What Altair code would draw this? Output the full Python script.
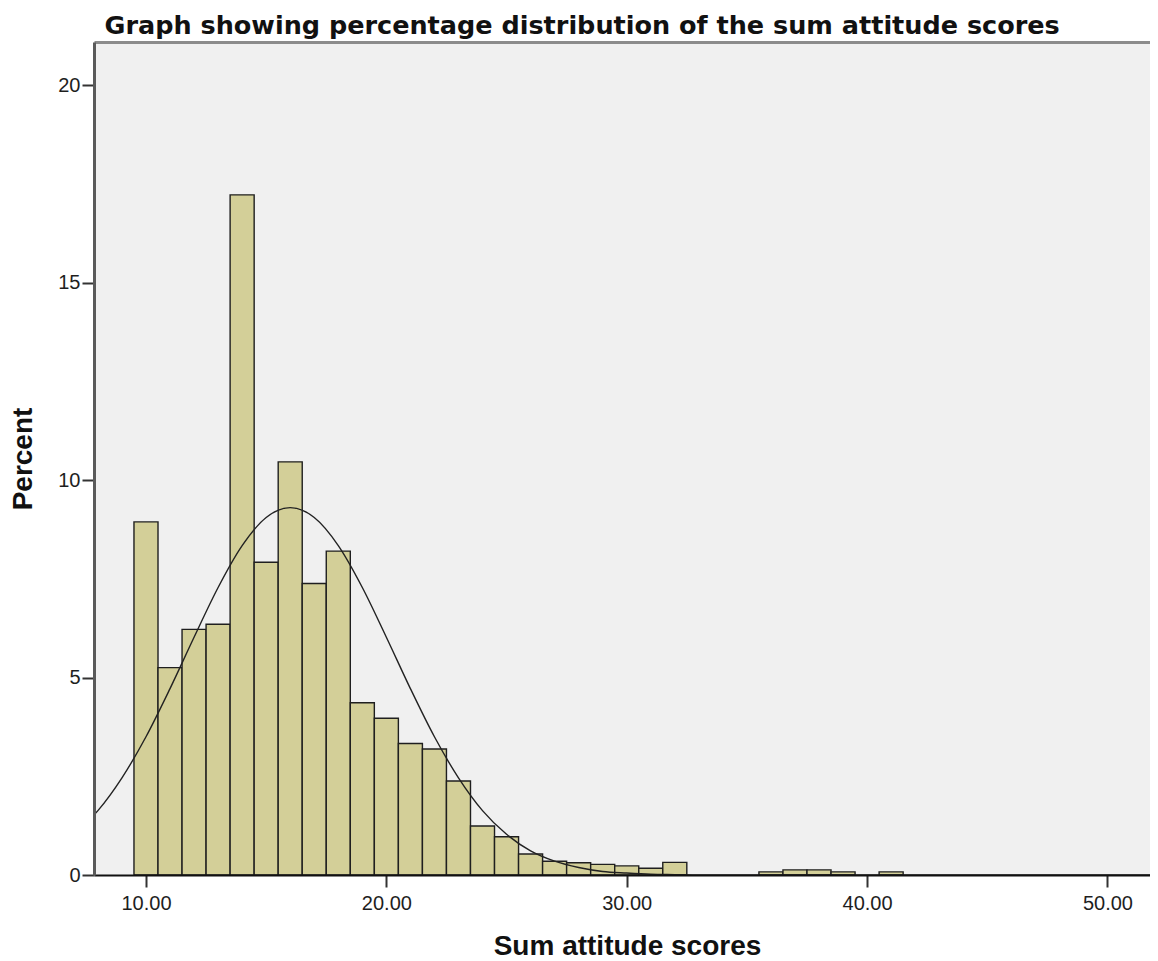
import altair as alt
import pandas as pd

# Histogram bins (centre of each 1-point bin) and their percentages
scores = [10, 11, 12, 13, 14, 15, 16, 17, 18, 19, 20, 21, 22, 23, 24, 25, 26, 27,
          28, 29, 30, 31, 32, 36, 37, 38, 39, 41]
percents = [8.94, 5.25, 6.22, 6.35, 17.22, 7.92, 10.46, 7.38, 8.20, 4.36, 3.97,
            3.33, 3.19, 2.38, 1.24, 0.97, 0.53, 0.35, 0.31, 0.27, 0.23, 0.17,
            0.32, 0.08, 0.13, 0.13, 0.08, 0.08]

# Normal curve
curve_x = [7, 8, 9, 10, 11, 12, 13, 14, 15, 16, 17, 18, 19, 20, 21, 22, 23, 24,
           25, 26, 27, 28, 29, 30, 31, 32, 33, 34, 53]
curve_y = [1.03, 1.63, 2.46, 3.50, 4.72, 6.02, 7.28, 8.34, 9.05, 9.30, 9.05,
           8.34, 7.28, 6.02, 4.72, 3.50, 2.46, 1.63, 1.03, 0.61, 0.35, 0.19,
           0.09, 0.05, 0.02, 0.01, 0.0, 0.0, 0.0]

x_ticks = [10, 20, 30, 40, 50]
y_ticks = [0, 5, 10, 15, 20]

bars_df = pd.DataFrame({"score": scores, "percent": percents})
curve_df = pd.DataFrame({"x": curve_x, "y": curve_y})

FONT = "Liberation Sans"
xscale = alt.Scale(domain=[7.837, 51.77], nice=False, zero=False)
yscale = alt.Scale(domain=[0, 21.09], nice=False)

bars = alt.Chart(bars_df).transform_calculate(
    lo="datum.score - 0.5", hi="datum.score + 0.5", base="0"
).mark_bar(
    fill="#D3CF98", stroke="#1f1f1f", strokeWidth=1.4, clip=True
).encode(
    x=alt.X("lo:Q", scale=xscale,
            axis=alt.Axis(values=x_ticks, format=".2f", title="Sum attitude scores",
                          tickSize=12, tickWidth=2, tickColor="#333333",
                          domainColor="#111111", domainWidth=2,
                          labelFont=FONT, labelFontSize=20, labelColor="#1e1e1e",
                          labelPadding=6, labelFlush=False,
                          titleFont=FONT, titleFontSize=28, titleFontWeight="bold",
                          titleColor="#111111", titleBaseline="alphabetic",
                          titleAnchor="start", titleAlign="center",
                          titleX=533, titleY=79, grid=False, zindex=2)),
    x2="hi:Q",
    y=alt.Y("percent:Q", scale=yscale,
            axis=alt.Axis(values=y_ticks, title="Percent",
                          tickSize=12, tickWidth=2, tickColor="#333333",
                          domainColor="#5a5a5a", domainWidth=3,
                          labelFont=FONT, labelFontSize=20, labelColor="#1e1e1e",
                          labelPadding=2,
                          titleFont=FONT, titleFontSize=28, titleFontWeight="bold",
                          titleColor="#111111", titleAngle=270,
                          titleAlign="center", titleBaseline="middle",
                          titleX=-71, titleY=416.5, grid=False, zindex=2)),
    y2="base:Q",
)

curve = alt.Chart(curve_df).mark_line(
    color="#222222", strokeWidth=1.4, interpolate="monotone", clip=True
).encode(
    x=alt.X("x:Q", scale=xscale,
            axis=alt.Axis(orient="top", labels=False, ticks=False,
                          title="Graph showing percentage distribution of the sum attitude scores",
                          titleFont="DejaVu Sans", titleFontSize=25.5, titleFontWeight="bold",
                          titleColor="#111111", titleAlign="left",
                          titleAnchor="start", titleBaseline="alphabetic",
                          titleX=10, titleY=-9,
                          domainColor="#8c8c8c", domainWidth=3, grid=False)),
    y=alt.Y("y:Q", scale=yscale, axis=None),
)

chart = alt.layer(bars, curve).resolve_axis(x="independent", y="independent").properties(
    width=1056,
    height=833,
    padding={"left": 86, "top": 34, "right": 0, "bottom": 86},
    autosize=alt.AutoSizeParams(type="none"),
    background="white",
).configure_view(fill="#F0F0F0", stroke=None)

chart.save("out.html", embed_options={"renderer": "svg", "actions": False})
